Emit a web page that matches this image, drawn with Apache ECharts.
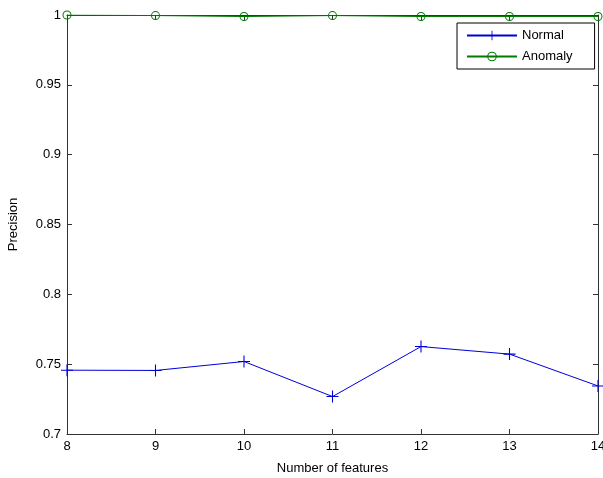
<!DOCTYPE html>
<html><head><meta charset="utf-8">
<script src="https://cdn.jsdelivr.net/npm/echarts@6/dist/echarts.min.js"></script>
<style>html,body{margin:0;padding:0;background:#fff}#c{width:603px;height:478px}</style>
</head><body><div id="c"></div>
<script>
const features = [8, 9, 10, 11, 12, 13, 14];
const normal = [0.7457, 0.7455, 0.7519, 0.7268, 0.7626, 0.7572, 0.7344];
const anomaly = [1.0, 0.9996, 0.9989, 0.9996, 0.9989, 0.9989, 0.9989];
const yTicks = [0.7, 0.75, 0.8, 0.85, 0.9, 0.95, 1];

const font = 'Liberation Sans, Arial, sans-serif';
const axisCol = '#333';
const blue = '#0000d8';
const green = '#007a00';
const plus = 'path://M-0.09,-1H0.09V-0.09H1V0.09H0.09V1H-0.09V0.09H-1V-0.09H-0.09Z';
const ring = 'path://M0,-1A1,1,0,1,1,0,1A1,1,0,1,1,0,-1ZM0,-0.78A0.78,0.78,0,1,0,0,0.78A0.78,0.78,0,1,0,0,-0.78Z';

const chart = echarts.init(document.getElementById('c'));
const xBase = {
  type: 'value', min: 8, max: 14, interval: 1,
  axisLine: {lineStyle: {color: axisCol, width: 1}},
  axisTick: {inside: true, length: 5, lineStyle: {color: axisCol}},
  splitLine: {show: false}
};
const yBase = {
  type: 'value', min: 0.7, max: 1, interval: 0.05,
  axisLine: {lineStyle: {color: axisCol, width: 1}},
  axisTick: {inside: true, length: 5, lineStyle: {color: axisCol}},
  splitLine: {show: false}
};
chart.setOption({
  animation: false,
  backgroundColor: '#fff',
  color: [blue, green],
  textStyle: {fontFamily: font},
  grid: {left: 67, right: 5, top: 15, bottom: 44, containLabel: false, outerBoundsMode: 'none'},
  xAxis: [
    Object.assign({}, xBase, {
      position: 'bottom',
      name: 'Number of features', nameLocation: 'middle', nameGap: 28,
      nameTextStyle: {color: '#000', fontSize: 13, fontFamily: font},
      axisLabel: {color: '#000', fontSize: 13, fontFamily: font, margin: 6}
    }),
    Object.assign({}, xBase, {position: 'top', axisLabel: {show: false}})
  ],
  yAxis: [
    Object.assign({}, yBase, {
      position: 'left',
      name: 'Precision', nameLocation: 'middle', nameGap: 47,
      nameTextStyle: {color: '#000', fontSize: 13, fontFamily: font},
      axisLabel: {color: '#000', fontSize: 13, fontFamily: font, margin: 6,
        formatter: v => String(parseFloat(v.toFixed(2)))}
    }),
    Object.assign({}, yBase, {position: 'right', axisLabel: {show: false}})
  ],
  legend: {
    orient: 'vertical', left: 457, top: 23,
    padding: [6, 22, 6, 9], itemGap: 8,
    itemWidth: 50, itemHeight: 12,
    borderColor: '#000', borderWidth: 1, backgroundColor: '#fff',
    textStyle: {color: '#000', fontSize: 13, fontFamily: font},
    data: ['Normal', 'Anomaly']
  },
  series: [
    {
      name: 'Normal', type: 'line', color: blue,
      data: features.map((f, i) => [f, normal[i]]),
      symbol: plus, symbolSize: 12,
      lineStyle: {color: blue, width: 1},
      itemStyle: {color: blue, borderWidth: 0}
    },
    {
      name: 'Anomaly', type: 'line', color: green,
      data: features.map((f, i) => [f, anomaly[i]]),
      symbol: ring, symbolSize: 9,
      lineStyle: {color: green, width: 1},
      itemStyle: {color: green, borderWidth: 0}
    }
  ]
});
</script></body></html>
